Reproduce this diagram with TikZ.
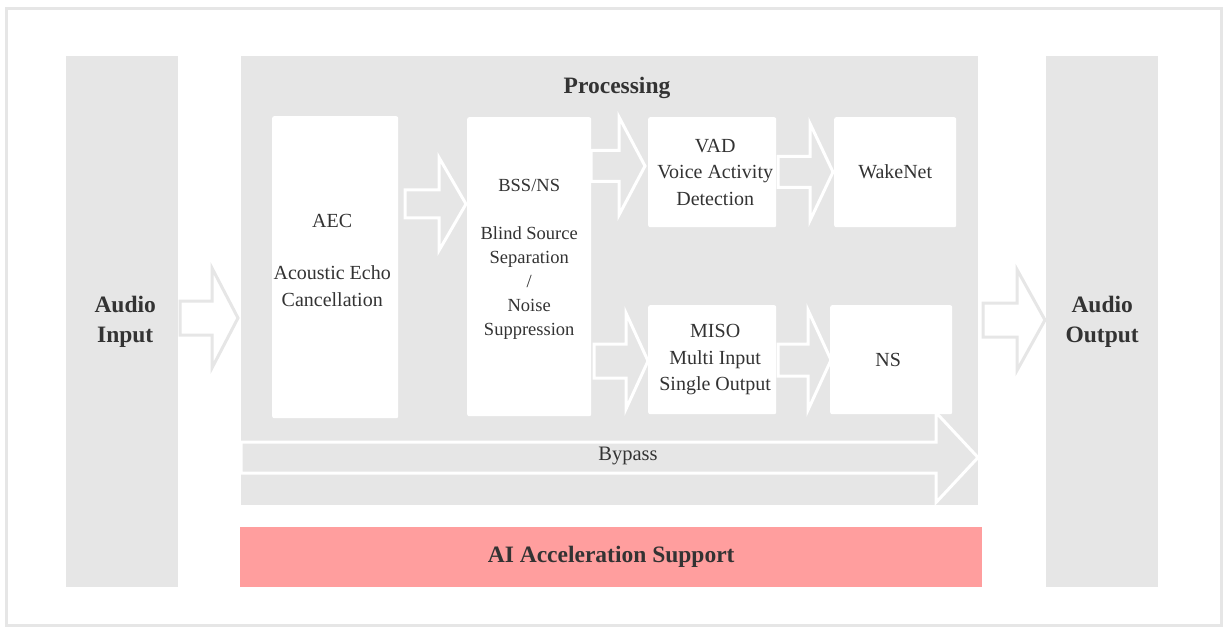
\documentclass[tikz,border=0pt]{standalone}
\usepackage{fontspec}
\setmainfont{Liberation Serif}
\usetikzlibrary{positioning}
\definecolor{panelgray}{RGB}{230,230,230}
\definecolor{accelpink}{RGB}{255,158,158}
\definecolor{labeltext}{RGB}{51,51,51}

% block arrow: [style]{x start}{x neck}{x tip}{y centre}{body half}{head half}
\newcommand{\blockarrow}[7][]{%
  \draw[#1] (#2,#5-#6) -- (#3,#5-#6) -- (#3,#5-#7) -- (#4,#5)
    -- (#3,#5+#7) -- (#3,#5+#6) -- (#2,#5+#6) -- cycle;}

\tikzset{
  panel/.style={fill=panelgray, draw=none, anchor=north west, inner sep=0pt,
    text=labeltext, align=center, font=\fontsize{23.5}{30}\selectfont\bfseries},
  paneltext/.style={text=labeltext, align=center, font=\fontsize{23.5}{30}\selectfont\bfseries},
  stage/.style={fill=white, draw=none, rounded corners=2pt, anchor=north west,
    inner sep=0pt, text=labeltext, align=center, font=\fontsize{20}{26.3}\selectfont},
  stagetext/.style={text=labeltext, align=center, font=\fontsize{20}{26.3}\selectfont},
  onwhite/.style={draw=panelgray, fill=white, line width=3pt},
  ongray/.style={draw=white, line width=3pt},
}

\begin{document}
\begin{tikzpicture}[x=1pt,y=-1pt]
  \useasboundingbox (0,0) rectangle (1231,631);

  % outer frame
  \draw[panelgray, line width=3pt] (6,9) rectangle (1221,625);

  % side panels and processing area
  \node[panel, minimum width=112pt, minimum height=531pt] (audioin) at (66,56) {};
  \node[panel, minimum width=112pt, minimum height=531pt] (audioout) at (1046,56) {Audio\\Output};
  \node[panel, minimum width=737pt, minimum height=449pt] (proc) at (241,56) {};
  \node[paneltext] (audiointext) at ([xshift=3pt]audioin.center) {Audio\\Input};
  \node[paneltext] (proctitle) at (617,88) {Processing};

  % bypass runs under the stages
  \blockarrow[ongray]{241}{936}{978}{457.5}{15.5}{45}
  \node[stagetext, font=\fontsize{20.5}{26}\selectfont] (bypass) at (628,456) {Bypass};

  % stages
  \node[stage, minimum width=126pt, minimum height=302pt] (aec) at (272,116) {};
  \node[stage, minimum width=124pt, minimum height=299pt] (bss) at (467,117) {};
  \node[stage, minimum width=128pt, minimum height=110pt] (vad) at (648,117) {};
  \node[stage, minimum width=122pt, minimum height=110pt] (wake) at (834,117) {WakeNet};
  \node[stage, minimum width=128pt, minimum height=109pt] (miso) at (648,305) {};
  \node[stage, minimum width=122pt, minimum height=109pt] (ns) at (830,305) {};

  \node[stagetext] (aectext) at ([xshift=-3pt,yshift=7pt]aec.center) {AEC\\[26pt]Acoustic Echo\\Cancellation};
  \node[stagetext, font=\fontsize{18.5}{24}\selectfont] (bsstext) at ([yshift=7.5pt]bss.center)
    {BSS/NS\\[24pt]Blind Source\\Separation\\/\\Noise\\Suppression};
  \node[stagetext] (vadtext) at ([xshift=3pt]vad.center) {VAD\\Voice Activity\\Detection};
  \node[stagetext] (misotext) at ([xshift=3pt]miso.center) {MISO\\Multi Input\\Single Output};
  \node[stagetext] (nstext) at ([xshift=-3pt]ns.center) {NS};

  % flow arrows
  \blockarrow[onwhite]{180}{212}{238}{318}{17}{50}
  \blockarrow[ongray]{405}{439}{466}{204}{14}{46.5}
  \blockarrow[ongray]{591}{619}{645}{166}{15.5}{49}
  \blockarrow[ongray]{594}{626}{648}{361}{17}{48}
  \blockarrow[ongray]{778}{810}{833}{172}{15.5}{48.5}
  \blockarrow[ongray]{778}{808}{831}{360}{16}{50}
  \blockarrow[onwhite]{983}{1017}{1045}{320}{17}{50.5}

  % acceleration bar
  \node[panel, fill=accelpink, minimum width=742pt, minimum height=60pt] (accel) at (240,527)
    {AI Acceleration Support};
\end{tikzpicture}
\end{document}
